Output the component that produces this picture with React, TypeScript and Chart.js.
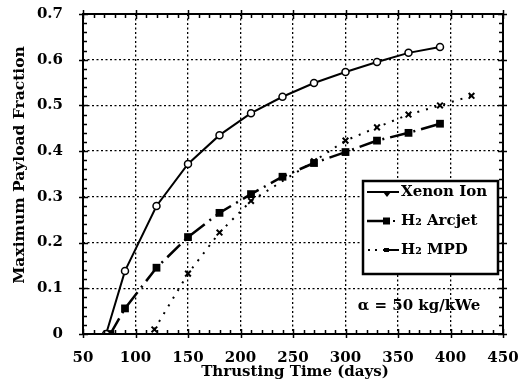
import React, { useEffect, useRef } from 'react';
import { Chart, registerables } from 'chart.js';

Chart.register(...registerables);

// ---- data ----
const xenonDays = [72, 90, 120, 150, 180, 210, 240, 270, 300, 330, 360, 390];
const xenonFrac = [0, 0.138, 0.28, 0.372, 0.435, 0.483, 0.519, 0.549, 0.573, 0.595, 0.615, 0.628];
const arcjetDays = [76, 90, 120, 150, 180, 210, 240, 270, 300, 330, 360, 390];
const arcjetFrac = [0, 0.056, 0.145, 0.212, 0.265, 0.306, 0.344, 0.374, 0.398, 0.423, 0.44, 0.46];
const mpdDays = [118, 150, 180, 210, 270, 300, 330, 360, 390, 420];
const mpdFrac = [0.01, 0.132, 0.222, 0.291, 0.378, 0.423, 0.452, 0.48, 0.5, 0.521];
const seriesNames = ['Xenon Ion', 'H₂ Arcjet', 'H₂ MPD'];
const xMin = 50;
const xMax = 450;
const xStep = 50;
const yMin = 0;
const yMax = 0.7;
const yStep = 0.1;
const xTitle = 'Thrusting Time (days)';
const yTitle = 'Maximum Payload Fraction';
const noteText = 'α = 50 kg/kWe';

const FONT = '"DejaVu Serif", serif';

const toPoints = (xs: number[], ys: number[]) => xs.map((x, i) => ({ x, y: ys[i] }));

const framePlugin = {
  id: 'frameAndDecor',
  afterDraw(chart: any) {
    const { ctx, chartArea } = chart;
    const { left, right, top, bottom } = chartArea;
    const xs = chart.scales.x;
    const ys = chart.scales.y;
    ctx.save();
    ctx.strokeStyle = '#000';
    ctx.lineWidth = 1.5;
    ctx.setLineDash([]);
    ctx.beginPath();
    for (let d = xMin; d <= xMax; d += 10) {
      const px = Math.round(xs.getPixelForValue(d)) + 0.5;
      const major = (d - xMin) % xStep === 0;
      const inner = major ? 5 : 4;
      const outer = major ? 4 : 0;
      ctx.moveTo(px, bottom + outer);
      ctx.lineTo(px, bottom - inner);
      ctx.moveTo(px, top - outer);
      ctx.lineTo(px, top + inner);
    }
    for (let i = 0; i <= 35; i++) {
      const v = i * 0.02;
      const py = Math.round(ys.getPixelForValue(v)) + 0.5;
      const major = i % 5 === 0;
      const inner = major ? 5 : 4;
      const outer = major ? 4 : 0;
      ctx.moveTo(left - outer, py);
      ctx.lineTo(left + inner, py);
      ctx.moveTo(right + outer, py);
      ctx.lineTo(right - inner, py);
    }
    ctx.stroke();
    ctx.lineWidth = 2;
    ctx.strokeRect(left, top, right - left, bottom - top);

    // axis titles
    ctx.fillStyle = '#000';
    ctx.font = `bold 15px ${FONT}`;
    ctx.textAlign = 'center';
    ctx.textBaseline = 'middle';
    ctx.fillText(xTitle, 295, 372);
    ctx.save();
    ctx.translate(20, 165);
    ctx.rotate(-Math.PI / 2);
    ctx.font = `bold 15.5px ${FONT}`;
    ctx.fillText(yTitle, 0, 0);
    ctx.restore();

    // annotation
    ctx.font = `bold 15px ${FONT}`;
    ctx.fillText(noteText, 419, 306);

    // legend box
    const lx = 363, ly = 181, lw = 135, lh = 93;
    ctx.fillStyle = '#fff';
    ctx.fillRect(lx, ly, lw, lh);
    ctx.lineWidth = 2.5;
    ctx.strokeStyle = '#000';
    ctx.strokeRect(lx, ly, lw, lh);
    ctx.fillStyle = '#000';
    ctx.textAlign = 'left';
    const rows = [192, 221, 250];
    ctx.lineWidth = 2;
    ctx.beginPath();
    ctx.moveTo(367, rows[0]);
    ctx.lineTo(399, rows[0]);
    ctx.stroke();
    ctx.beginPath();
    ctx.moveTo(383, rows[0]);
    ctx.lineTo(391, rows[0]);
    ctx.lineTo(387, rows[0] + 5);
    ctx.closePath();
    ctx.fill();
    ctx.lineWidth = 2.5;
    ctx.beginPath();
    ctx.moveTo(367, rows[1]);
    ctx.lineTo(384, rows[1]);
    ctx.stroke();
    ctx.fillRect(383, rows[1] - 3.5, 7, 7);
    ctx.fillRect(393, rows[1] - 1, 2, 2);
    ctx.lineWidth = 2;
    ctx.fillRect(368, rows[2] - 1, 2, 2);
    ctx.fillRect(375, rows[2] - 1, 2, 2);
    ctx.beginPath();
    ctx.moveTo(383, rows[2]);
    ctx.lineTo(399, rows[2]);
    ctx.stroke();
    ctx.fillRect(384, rows[2] - 2, 5, 4);
    ctx.font = `bold 15px ${FONT}`;
    ctx.textBaseline = 'middle';
    seriesNames.forEach((name, i) => {
      ctx.fillText(name, 401, rows[i]);
    });
    ctx.restore();
  },
};

export default function App() {
  const canvasRef = useRef<HTMLCanvasElement | null>(null);

  useEffect(() => {
    const canvas = canvasRef.current;
    if (!canvas) return;
    const chart = new Chart(canvas, {
      type: 'scatter',
      data: {
        datasets: [
          {
            label: seriesNames[0],
            data: toPoints(xenonDays, xenonFrac),
            showLine: true,
            borderColor: '#000',
            borderWidth: 2,
            pointStyle: 'circle',
            pointRadius: 3.5,
            pointBackgroundColor: '#fff',
            pointBorderColor: '#000',
            pointBorderWidth: 1.5,
          },
          {
            label: seriesNames[1],
            data: toPoints(arcjetDays, arcjetFrac),
            showLine: true,
            borderColor: '#000',
            borderWidth: 2.5,
            borderDash: [18, 6, 2, 6],
            pointStyle: 'rect',
            pointRadius: 5.5,
            pointBackgroundColor: '#000',
            pointBorderColor: '#000',
            pointBorderWidth: 0,
          },
          {
            label: seriesNames[2],
            data: toPoints(mpdDays, mpdFrac),
            showLine: true,
            borderColor: '#000',
            borderWidth: 2,
            borderDash: [2, 7],
            pointStyle: 'crossRot',
            pointRadius: 4,
            pointBorderColor: '#000',
            pointBorderWidth: 2,
          },
        ],
      },
      options: {
        responsive: false,
        animation: false,
        layout: { padding: { top: 14, right: 19, left: 0, bottom: 0 } },
        plugins: {
          legend: { display: false },
          tooltip: { enabled: false },
        },
        scales: {
          x: {
            type: 'linear',
            min: xMin,
            max: xMax,
            afterFit: (s: any) => { s.height = 57; s.paddingLeft = 0; s.paddingRight = 0; },
            ticks: {
              stepSize: xStep,
              color: '#000',
              padding: 15,
              maxRotation: 0,
              font: { family: FONT, size: 15, weight: 'bold' },
            },
            grid: { color: '#000', lineWidth: 1.3, drawTicks: false },
            border: { display: false, dash: [2, 2.5] },
          },
          y: {
            type: 'linear',
            min: yMin,
            max: yMax,
            afterFit: (s: any) => { s.width = 83; s.paddingTop = 0; s.paddingBottom = 0; },
            ticks: {
              stepSize: yStep,
              color: '#000',
              padding: 20,
              font: { family: FONT, size: 15, weight: 'bold' },
            },
            grid: { color: '#000', lineWidth: 1.3, drawTicks: false },
            border: { display: false, dash: [2, 2.5] },
          },
        },
      },
      plugins: [framePlugin],
    });
    return () => chart.destroy();
  }, []);

  return (
    <div style={{ position: 'fixed', left: 0, top: 0, width: 522, height: 391, background: '#fff' }}>
      <canvas ref={canvasRef} width={522} height={391} style={{ display: 'block' }} />
    </div>
  );
}
